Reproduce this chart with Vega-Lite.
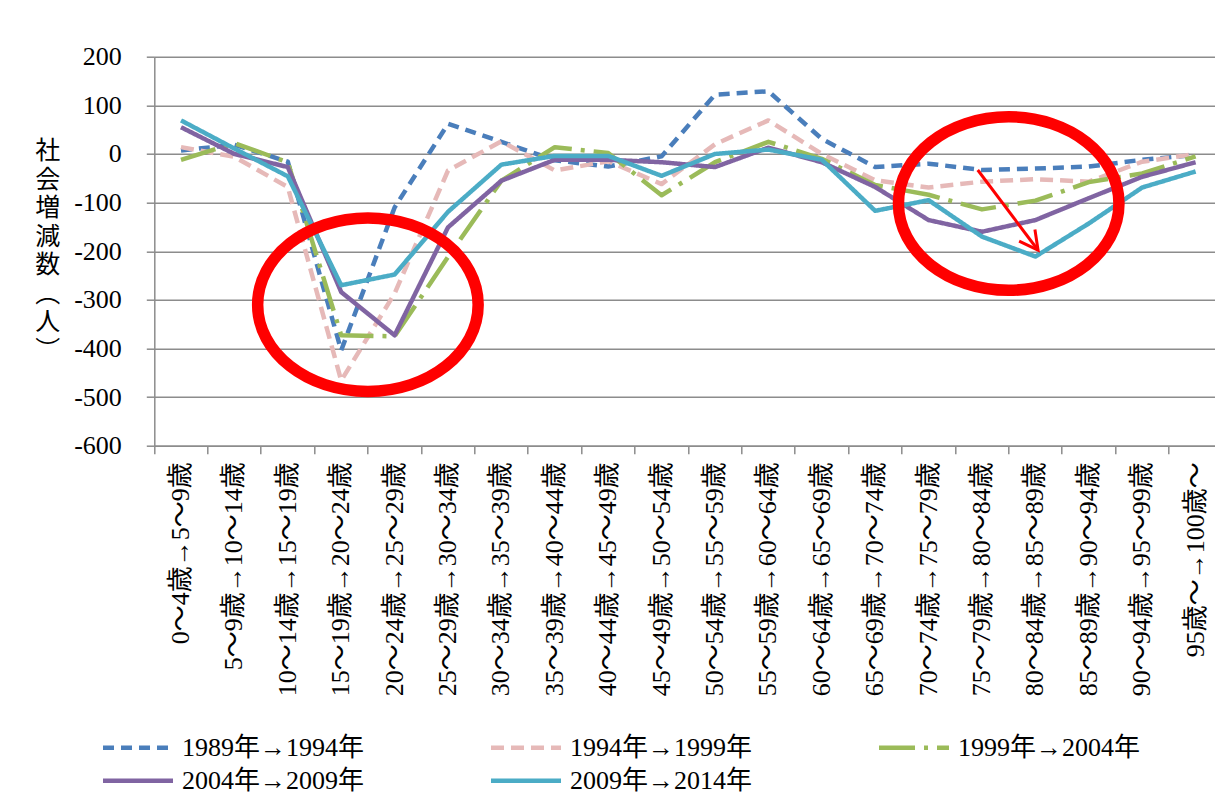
{
  "$schema": "https://vega.github.io/schema/vega-lite/v6.json",
  "width": 1068,
  "height": 389,
  "autosize": {"type": "none"},
  "padding": {"left": 154.3, "top": 56.7, "right": -7.3, "bottom": 350.3},
  "background": "white",
  "config": {
    "font": "Liberation Serif, Noto Sans CJK JP",
    "view": {"stroke": null}
  },
  "datasets": {
    "main": [
      {"period": "1989年→1994年", "age": "0～4歳→5～9歳", "value": 7},
      {"period": "1989年→1994年", "age": "5～9歳→10～14歳", "value": 19},
      {"period": "1989年→1994年", "age": "10～14歳→15～19歳", "value": -16},
      {"period": "1989年→1994年", "age": "15～19歳→20～24歳", "value": -404},
      {"period": "1989年→1994年", "age": "20～24歳→25～29歳", "value": -110},
      {"period": "1989年→1994年", "age": "25～29歳→30～34歳", "value": 62},
      {"period": "1989年→1994年", "age": "30～34歳→35～39歳", "value": 25},
      {"period": "1989年→1994年", "age": "35～39歳→40～44歳", "value": -13},
      {"period": "1989年→1994年", "age": "40～44歳→45～49歳", "value": -26},
      {"period": "1989年→1994年", "age": "45～49歳→50～54歳", "value": -5},
      {"period": "1989年→1994年", "age": "50～54歳→55～59歳", "value": 122},
      {"period": "1989年→1994年", "age": "55～59歳→60～64歳", "value": 129},
      {"period": "1989年→1994年", "age": "60～64歳→65～69歳", "value": 31},
      {"period": "1989年→1994年", "age": "65～69歳→70～74歳", "value": -27},
      {"period": "1989年→1994年", "age": "70～74歳→75～79歳", "value": -20},
      {"period": "1989年→1994年", "age": "75～79歳→80～84歳", "value": -33},
      {"period": "1989年→1994年", "age": "80～84歳→85～89歳", "value": -30},
      {"period": "1989年→1994年", "age": "85～89歳→90～94歳", "value": -26},
      {"period": "1989年→1994年", "age": "90～94歳→95～99歳", "value": -12},
      {"period": "1989年→1994年", "age": "95歳～→100歳～", "value": -2},
      {"period": "1994年→1999年", "age": "0～4歳→5～9歳", "value": 14},
      {"period": "1994年→1999年", "age": "5～9歳→10～14歳", "value": -6},
      {"period": "1994年→1999年", "age": "10～14歳→15～19歳", "value": -68},
      {"period": "1994年→1999年", "age": "15～19歳→20～24歳", "value": -466},
      {"period": "1994年→1999年", "age": "20～24歳→25～29歳", "value": -287},
      {"period": "1994年→1999年", "age": "25～29歳→30～34歳", "value": -34},
      {"period": "1994年→1999年", "age": "30～34歳→35～39歳", "value": 26},
      {"period": "1994年→1999年", "age": "35～39歳→40～44歳", "value": -34},
      {"period": "1994年→1999年", "age": "40～44歳→45～49歳", "value": -15},
      {"period": "1994年→1999年", "age": "45～49歳→50～54歳", "value": -62},
      {"period": "1994年→1999年", "age": "50～54歳→55～59歳", "value": 20},
      {"period": "1994年→1999年", "age": "55～59歳→60～64歳", "value": 69},
      {"period": "1994年→1999年", "age": "60～64歳→65～69歳", "value": 0},
      {"period": "1994年→1999年", "age": "65～69歳→70～74歳", "value": -54},
      {"period": "1994年→1999年", "age": "70～74歳→75～79歳", "value": -69},
      {"period": "1994年→1999年", "age": "75～79歳→80～84歳", "value": -57},
      {"period": "1994年→1999年", "age": "80～84歳→85～89歳", "value": -52},
      {"period": "1994年→1999年", "age": "85～89歳→90～94歳", "value": -57},
      {"period": "1994年→1999年", "age": "90～94歳→95～99歳", "value": -16},
      {"period": "1994年→1999年", "age": "95歳～→100歳～", "value": 0},
      {"period": "1999年→2004年", "age": "0～4歳→5～9歳", "value": -12},
      {"period": "1999年→2004年", "age": "5～9歳→10～14歳", "value": 22},
      {"period": "1999年→2004年", "age": "10～14歳→15～19歳", "value": -17},
      {"period": "1999年→2004年", "age": "15～19歳→20～24歳", "value": -373},
      {"period": "1999年→2004年", "age": "20～24歳→25～29歳", "value": -375},
      {"period": "1999年→2004年", "age": "25～29歳→30～34歳", "value": -212},
      {"period": "1999年→2004年", "age": "30～34歳→35～39歳", "value": -55},
      {"period": "1999年→2004年", "age": "35～39歳→40～44歳", "value": 14},
      {"period": "1999年→2004年", "age": "40～44歳→45～49歳", "value": 2},
      {"period": "1999年→2004年", "age": "45～49歳→50～54歳", "value": -85},
      {"period": "1999年→2004年", "age": "50～54歳→55～59歳", "value": -17},
      {"period": "1999年→2004年", "age": "55～59歳→60～64歳", "value": 25},
      {"period": "1999年→2004年", "age": "60～64歳→65～69歳", "value": -10},
      {"period": "1999年→2004年", "age": "65～69歳→70～74歳", "value": -64},
      {"period": "1999年→2004年", "age": "70～74歳→75～79歳", "value": -84},
      {"period": "1999年→2004年", "age": "75～79歳→80～84歳", "value": -114},
      {"period": "1999年→2004年", "age": "80～84歳→85～89歳", "value": -96},
      {"period": "1999年→2004年", "age": "85～89歳→90～94歳", "value": -58},
      {"period": "1999年→2004年", "age": "90～94歳→95～99歳", "value": -40},
      {"period": "1999年→2004年", "age": "95歳～→100歳～", "value": -5},
      {"period": "2004年→2009年", "age": "0～4歳→5～9歳", "value": 55},
      {"period": "2004年→2009年", "age": "5～9歳→10～14歳", "value": 0},
      {"period": "2004年→2009年", "age": "10～14歳→15～19歳", "value": -27},
      {"period": "2004年→2009年", "age": "15～19歳→20～24歳", "value": -284},
      {"period": "2004年→2009年", "age": "20～24歳→25～29歳", "value": -373},
      {"period": "2004年→2009年", "age": "25～29歳→30～34歳", "value": -151},
      {"period": "2004年→2009年", "age": "30～34歳→35～39歳", "value": -55},
      {"period": "2004年→2009年", "age": "35～39歳→40～44歳", "value": -12},
      {"period": "2004年→2009年", "age": "40～44歳→45～49歳", "value": -12},
      {"period": "2004年→2009年", "age": "45～49歳→50～54歳", "value": -17},
      {"period": "2004年→2009年", "age": "50～54歳→55～59歳", "value": -27},
      {"period": "2004年→2009年", "age": "55～59歳→60～64歳", "value": 13},
      {"period": "2004年→2009年", "age": "60～64歳→65～69歳", "value": -17},
      {"period": "2004年→2009年", "age": "65～69歳→70～74歳", "value": -68},
      {"period": "2004年→2009年", "age": "70～74歳→75～79歳", "value": -136},
      {"period": "2004年→2009年", "age": "75～79歳→80～84歳", "value": -160},
      {"period": "2004年→2009年", "age": "80～84歳→85～89歳", "value": -136},
      {"period": "2004年→2009年", "age": "85～89歳→90～94歳", "value": -91},
      {"period": "2004年→2009年", "age": "90～94歳→95～99歳", "value": -47},
      {"period": "2004年→2009年", "age": "95歳～→100歳～", "value": -17},
      {"period": "2009年→2014年", "age": "0～4歳→5～9歳", "value": 69},
      {"period": "2009年→2014年", "age": "5～9歳→10～14歳", "value": 11},
      {"period": "2009年→2014年", "age": "10～14歳→15～19歳", "value": -46},
      {"period": "2009年→2014年", "age": "15～19歳→20～24歳", "value": -270},
      {"period": "2009年→2014年", "age": "20～24歳→25～29歳", "value": -248},
      {"period": "2009年→2014年", "age": "25～29歳→30～34歳", "value": -119},
      {"period": "2009年→2014年", "age": "30～34歳→35～39歳", "value": -22},
      {"period": "2009年→2014年", "age": "35～39歳→40～44歳", "value": -4},
      {"period": "2009年→2014年", "age": "40～44歳→45～49歳", "value": -4},
      {"period": "2009年→2014年", "age": "45～49歳→50～54歳", "value": -45},
      {"period": "2009年→2014年", "age": "50～54歳→55～59歳", "value": 0},
      {"period": "2009年→2014年", "age": "55～59歳→60～64歳", "value": 9},
      {"period": "2009年→2014年", "age": "60～64歳→65～69歳", "value": -12},
      {"period": "2009年→2014年", "age": "65～69歳→70～74歳", "value": -117},
      {"period": "2009年→2014年", "age": "70～74歳→75～79歳", "value": -95},
      {"period": "2009年→2014年", "age": "75～79歳→80～84歳", "value": -170},
      {"period": "2009年→2014年", "age": "80～84歳→85～89歳", "value": -211},
      {"period": "2009年→2014年", "age": "85～89歳→90～94歳", "value": -143},
      {"period": "2009年→2014年", "age": "90～94歳→95～99歳", "value": -69},
      {"period": "2009年→2014年", "age": "95歳～→100歳～", "value": -36}
    ],
    "ellipses": [
      {"age": "15～19歳→20～24歳", "value": -310},
      {"age": "75～79歳→80～84歳", "value": -102}
    ],
    "arrow": [
      {"age": "75～79歳→80～84歳", "value": -33, "age2": "80～84歳→85～89歳", "value2": -198}
    ],
    "arrowhead": [
      {"age": "80～84歳→85～89歳", "value": -198}
    ]
  },
  "layer": [
    {
      "data": {"name": "main"},
      "mark": {"type": "line", "strokeCap": "butt", "strokeJoin": "round"},
      "encoding": {
        "x": {
          "field": "age", "type": "nominal", "sort": null,
          "scale": {"type": "band", "paddingInner": 0, "paddingOuter": 0,
            "domain": ["0～4歳→5～9歳","5～9歳→10～14歳","10～14歳→15～19歳","15～19歳→20～24歳","20～24歳→25～29歳","25～29歳→30～34歳","30～34歳→35～39歳","35～39歳→40～44歳","40～44歳→45～49歳","45～49歳→50～54歳","50～54歳→55～59歳","55～59歳→60～64歳","60～64歳→65～69歳","65～69歳→70～74歳","70～74歳→75～79歳","75～79歳→80～84歳","80～84歳→85～89歳","85～89歳→90～94歳","90～94歳→95～99歳","95歳～→100歳～"]},
          "axis": {
            "title": null, "labelAngle": -90, "labelFont": "Liberation Serif, Noto Sans CJK JP",
            "labelFontSize": 26, "labelColor": "#000000", "labelLimit": 400, "labelPadding": 8,
            "bandPosition": 0, "ticks": true, "tickSize": 8, "tickWidth": 1.5, "tickColor": "#8c8c8c",
            "domainColor": "#8c8c8c", "domainWidth": 1.5, "grid": false, "labelOverlap": false
          }
        },
        "y": {
          "field": "value", "type": "quantitative",
          "scale": {"domain": [-600, 200], "nice": false, "zero": false},
          "axis": {
            "values": [-600, -500, -400, -300, -200, -100, 0, 100, 200],
            "labelExpr": "'' + datum.value",
            "labelFont": "Liberation Serif, Noto Sans CJK JP", "labelFontSize": 26, "labelColor": "#000000",
            "labelPadding": 25, "tickSize": 8, "tickWidth": 1.5, "tickColor": "#8c8c8c",
            "domainColor": "#8c8c8c", "domainWidth": 1.5,
            "grid": true, "gridColor": "#8c8c8c", "gridWidth": 1.5,
            "title": ["社", "会", "増", "減", "数", "︵", "人", "︶"],
            "titleFont": "Noto Sans CJK JP", "titleFontSize": 25, "titleFontWeight": "normal",
            "titleColor": "#000000", "titleAngle": 0, "titleAlign": "center", "titleBaseline": "top",
            "titleLineHeight": 28.5, "titleX": -107, "titleY": 82
          }
        },
        "color": {
          "field": "period", "type": "nominal",
          "scale": {"domain": ["1989年→1994年","1994年→1999年","1999年→2004年","2004年→2009年","2009年→2014年"],
                    "range": ["#4a7ebb", "#e6b9b8", "#9bbb59", "#8064a2", "#4bacc6"]},
          "legend": {
            "title": null, "orient": "none", "direction": "horizontal", "legendX": -29.3, "legendY": 678, "columns": 3,
            "symbolType": "M -3.5 0 L 3.5 0", "symbolSize": 400, "labelFont": "Liberation Serif, Noto Sans CJK JP",
            "labelFontSize": 26, "labelColor": "#000000", "labelOffset": 31, "columnPadding": 117,
            "rowPadding": 7, "labelLimit": 400
          }
        },
        "strokeDash": {
          "field": "period", "type": "nominal",
          "scale": {"domain": ["1989年→1994年","1994年→1999年","1999年→2004年","2004年→2009年","2009年→2014年"],
                    "range": [[11, 7], [13, 7], [36, 9, 4, 9], [1, 0], [1, 0]]}
        },
        "strokeWidth": {
          "field": "period", "type": "nominal",
          "scale": {"domain": ["1989年→1994年","1994年→1999年","1999年→2004年","2004年→2009年","2009年→2014年"],
                    "range": [4.5, 4.5, 5, 3, 5]}
        }
      }
    },
    {
      "data": {"name": "ellipses"},
      "mark": {"type": "point", "shape": "M -1 0 A 1 0.787 0 1 0 1 0 A 1 0.787 0 1 0 -1 0 Z",
               "filled": false, "fill": null, "stroke": "#ff0000", "strokeWidth": 11.5, "size": 48620, "opacity": 1},
      "encoding": {
        "x": {"field": "age", "type": "nominal", "bandPosition": 1, "sort": null},
        "y": {"field": "value", "type": "quantitative"}
      }
    },
    {
      "data": {"name": "arrow"},
      "mark": {"type": "rule", "color": "#ff0000", "strokeWidth": 3},
      "encoding": {
        "x": {"field": "age", "type": "nominal", "bandPosition": 0.42, "sort": null},
        "x2": {"field": "age2", "bandPosition": 0.55},
        "y": {"field": "value", "type": "quantitative"},
        "y2": {"field": "value2"}
      }
    },
    {
      "data": {"name": "arrowhead"},
      "mark": {"type": "point", "shape": "M -0.903 -0.429 L 0 0 L -0.15 -0.989",
               "filled": false, "fill": null, "stroke": "#ff0000", "strokeWidth": 3, "size": 1764, "opacity": 1},
      "encoding": {
        "x": {"field": "age", "type": "nominal", "bandPosition": 0.55, "sort": null},
        "y": {"field": "value", "type": "quantitative"}
      }
    }
  ]
}
